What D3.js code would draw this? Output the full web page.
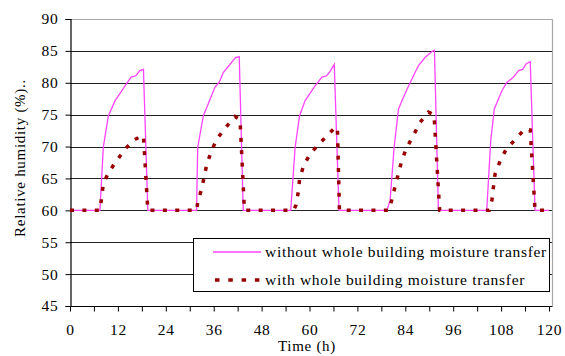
<!DOCTYPE html>
<html>
<head>
<meta charset="utf-8">
<script src="https://cdn.jsdelivr.net/npm/d3@7"></script>
<style>
  body { margin: 0; background: #fff; }
  svg { display: block; }
  svg text { font-family: "Liberation Serif", "Times New Roman", Times, "DejaVu Serif", serif !important; fill: #000; letter-spacing: 0.7px; }
</style>
</head>
<body>
<svg id="chart" width="565" height="356"></svg>
<script>
// ---- data ----
const xTickValues = [0, 12, 24, 36, 48, 60, 72, 84, 96, 108, 120];
const yTickValues = [45, 50, 55, 60, 65, 70, 75, 80, 85, 90];
const seriesNames = ["without whole building moisture transfer", "with whole building moisture transfer"];

const timeWithout = [0, 7.5, 8.35, 9.6, 11.3, 13.8, 15.3, 16.5, 17.5, 18.4, 19.5,
  31.7, 32.0, 33.4, 36.3, 37.4, 38.4, 40.1, 41.4, 42.4, 43.4,
  55.3, 56.4, 57.5, 58.9, 61.4, 63.1, 64.3, 65.3, 66.2, 67.4,
  79.4, 80.2, 81.2, 82.3, 83.5, 85.2, 87.3, 89.0, 90.7, 91.3, 92.3,
  104.4, 105.4, 106.3, 108.2, 109.4, 111.1, 112.4, 113.4, 114.3, 115.3, 116.5, 120];
const rhWithout = [60, 60, 69.9, 74.8, 77.2, 79.5, 80.9, 81.1, 81.9, 82.1, 60,
  60, 69.9, 74.8, 79.3, 80.1, 81.6, 82.9, 83.9, 84.1, 60,
  60, 69.9, 74.8, 77.2, 79.5, 80.9, 81.1, 81.9, 82.9, 60,
  60, 61.6, 69.9, 75.9, 77.7, 80.0, 82.7, 84.0, 84.9, 85.1, 60,
  60, 70.9, 75.9, 78.75, 80.0, 80.9, 81.9, 82.1, 83.0, 83.3, 60, 60];

const timeWith = [0, 7.5, 7.95, 8.35, 9.8, 11.85, 13.8, 15.9, 17.5, 18.4, 19.5,
  31.75, 32.0, 33.0, 33.6, 34.3, 35.5, 36.8, 39.0, 41.35, 42.6, 43.7,
  56.0, 56.6, 57.2, 57.5, 58.5, 60.2, 62.4, 64.7, 66.6, 67.0, 67.5,
  79.9, 80.6, 81.5, 83.1, 84.4, 86.0, 87.7, 89.8, 91.2, 92.6,
  105.0, 105.7, 106.1, 106.5, 107.8, 109.3, 111.7, 114.0, 115.3, 116.5, 120];
const rhWith = [60, 60, 62.1, 64.2, 66.1, 67.9, 69.6, 71.0, 71.5, 71.7, 60,
  60, 61.3, 63.4, 65.2, 67.3, 69.4, 71.2, 73.0, 74.7, 74.2, 60,
  60, 60.8, 62.9, 64.8, 67.0, 68.9, 70.4, 71.9, 73.1, 72.8, 60,
  60, 61.6, 63.9, 67.8, 69.9, 71.7, 73.8, 75.4, 75.0, 60,
  60, 61.6, 63.75, 65.7, 67.8, 69.6, 71.2, 72.8, 72.6, 60, 60];

// ---- layout ----
const svg = d3.select("#chart");
const mLeft = 70, mRight = 549, mTop = 19, mBottom = 306, frameRight = 552;
const x = d3.scaleLinear().domain([0, 120]).range([mLeft, mRight]);
const y = d3.scaleLinear().domain([45, 90]).range([mBottom, mTop]);

// gridlines
svg.append("g").selectAll("line")
  .data(yTickValues.filter(v => v > 45 && v < 90))
  .join("line")
  .attr("x1", mLeft).attr("x2", frameRight)
  .attr("y1", d => Math.round(y(d)) + 0.5).attr("y2", d => Math.round(y(d)) + 0.5)
  .attr("stroke", "#222").attr("stroke-width", 1);

// plot frame (top & right grey)
svg.append("line").attr("x1", mLeft).attr("x2", frameRight + 0.5)
  .attr("y1", mTop + 0.5).attr("y2", mTop + 0.5).attr("stroke", "#a8a8a8").attr("stroke-width", 1.2);
svg.append("line").attr("x1", frameRight + 0.5).attr("x2", frameRight + 0.5)
  .attr("y1", mTop).attr("y2", mBottom).attr("stroke", "#a8a8a8").attr("stroke-width", 1.2);

// y axis
const yAxis = d3.axisLeft(y).tickValues(yTickValues).tickSize(5).tickPadding(7);
const gy = svg.append("g").attr("transform", `translate(${mLeft + 0.5},0)`).call(yAxis)
  .attr("font-family", null).attr("font-size", null);
gy.select(".domain").attr("stroke", "#000").attr("stroke-width", 1.2);
gy.selectAll(".tick line").attr("stroke", "#000");
gy.selectAll(".tick text").style("font-size", "15.5px");

// x axis
const xAxis = d3.axisBottom(x).tickValues(d3.range(0, 121, 6)).tickSize(5).tickPadding(12)
  .tickFormat(d => xTickValues.includes(d) ? d : "");
const gx = svg.append("g").attr("transform", `translate(0,${mBottom + 0.5})`).call(xAxis)
  .attr("font-family", null).attr("font-size", null);
gx.select(".domain").attr("stroke", "#000").attr("stroke-width", 1.2).attr("d", `M${mLeft},0H${frameRight + 0.5}`);
gx.selectAll(".tick line").attr("stroke", "#000");
gx.selectAll(".tick text").style("font-size", "15.5px");

// lines
const line = d3.line().x(d => x(d[0])).y(d => y(d[1]));
svg.append("path")
  .datum(timeWithout.map((t, i) => [t, rhWithout[i]]))
  .attr("d", line).attr("fill", "none")
  .attr("stroke", "#ff44ff").attr("stroke-width", 1.3);
svg.append("path")
  .datum(timeWith.map((t, i) => [t, rhWith[i]]))
  .attr("d", line).attr("fill", "none")
  .attr("stroke", "#990000").attr("stroke-width", 3.5)
  .attr("stroke-dasharray", "4,8.4");

// axis titles
svg.append("text").attr("x", 307).attr("y", 351).attr("text-anchor", "middle")
  .style("font-size", "15px").text("Time (h)");
svg.append("text").attr("transform", "translate(25,158) rotate(-90)")
  .attr("text-anchor", "middle").style("font-size", "15px").text("Relative humidity (%)..");

// legend
const lg = svg.append("g");
lg.append("rect").attr("x", 193.5).attr("y", 238.5).attr("width", 356).attr("height", 53)
  .attr("fill", "#fff").attr("stroke", "#000").attr("stroke-width", 1);
lg.append("line").attr("x1", 213).attr("x2", 261).attr("y1", 252).attr("y2", 252)
  .attr("stroke", "#ff44ff").attr("stroke-width", 1.3);
lg.append("line").attr("x1", 215).attr("x2", 261).attr("y1", 280).attr("y2", 280)
  .attr("stroke", "#990000").attr("stroke-width", 3.5).attr("stroke-dasharray", "4.5,8.8");
lg.append("text").attr("x", 265).attr("y", 257).style("font-size", "15.5px").text(seriesNames[0]);
lg.append("text").attr("x", 265).attr("y", 285).style("font-size", "15.5px").text(seriesNames[1]);
</script>
</body>
</html>
